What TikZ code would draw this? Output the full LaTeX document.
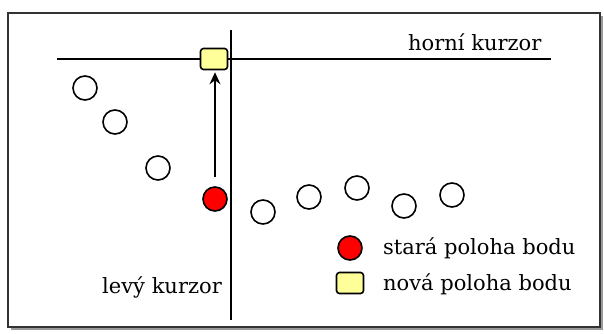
\documentclass[tikz,border=0pt]{standalone}
\usepackage{fontspec}
\setmainfont{DejaVu Serif}
\usetikzlibrary{arrows.meta}
\definecolor{ptyellow}{HTML}{FFFF99}
\definecolor{frameshadow}{HTML}{9A9A9A}
\tikzset{
  pt/.style={circle,draw=black,line width=1.6pt,minimum size=24pt,inner sep=0pt,fill=white},
  oldpt/.style={pt,fill=red},
  newpt/.style={draw=black,line width=1.6pt,rounded corners=3pt,fill=ptyellow,minimum width=27pt,minimum height=21pt,inner sep=0pt},
  cursor/.style={line width=1.6pt,black},
  lbl/.style={font=\fontsize{21}{24}\selectfont,inner sep=0pt,anchor=base west}
}
\begin{document}
\begin{tikzpicture}[x=1pt,y=-1pt]
\useasboundingbox (0,0) rectangle (604,333);
\fill[white] (0,0) rectangle (604,333);
% frame with shadow
\draw[frameshadow,line width=1.5pt] (11,329) -- (602,329) -- (602,16);
\draw[line width=1.6pt,black!80] (8,13) rectangle (600,327);
% cursors
\coordinate (hL) at (57,59);
\coordinate (hR) at (551,59);
\coordinate (vT) at (231,30);
\coordinate (vB) at (231,320);
\draw[cursor] (hL) -- (hR);
\draw[cursor] (vT) -- (vB);
% points
\node[pt] (p1) at (85,88) {};
\node[pt] (p2) at (115,122) {};
\node[pt] (p3) at (158,168) {};
\node[oldpt] (p4) at (215,199) {};
\node[pt] (p5) at (263,212) {};
\node[pt] (p6) at (309,197) {};
\node[pt] (p7) at (357,188) {};
\node[pt] (p8) at (404,206) {};
\node[pt] (p9) at (452,195) {};
\node[newpt] (sq) at (214,59) {};
\draw[line width=1.5pt,-{Stealth[length=12pt,width=11pt,inset=4pt]},shorten <=9pt,shorten >=2pt] (p4) -- (p4 |- sq.south);
% labels
\node[lbl] (hk) at (408,50) {horní kurzor};
\node[lbl,anchor=base east] (lk) at (222,293) {levý kurzor};
% legend
\node[oldpt] (lg1) at (350,248) {};
\node[newpt] (lg2) at (350,283) {};
\node[lbl] (t1) at (383,254) {stará poloha bodu};
\node[lbl] (t2) at (383,290) {nová poloha bodu};
\end{tikzpicture}
\end{document}
